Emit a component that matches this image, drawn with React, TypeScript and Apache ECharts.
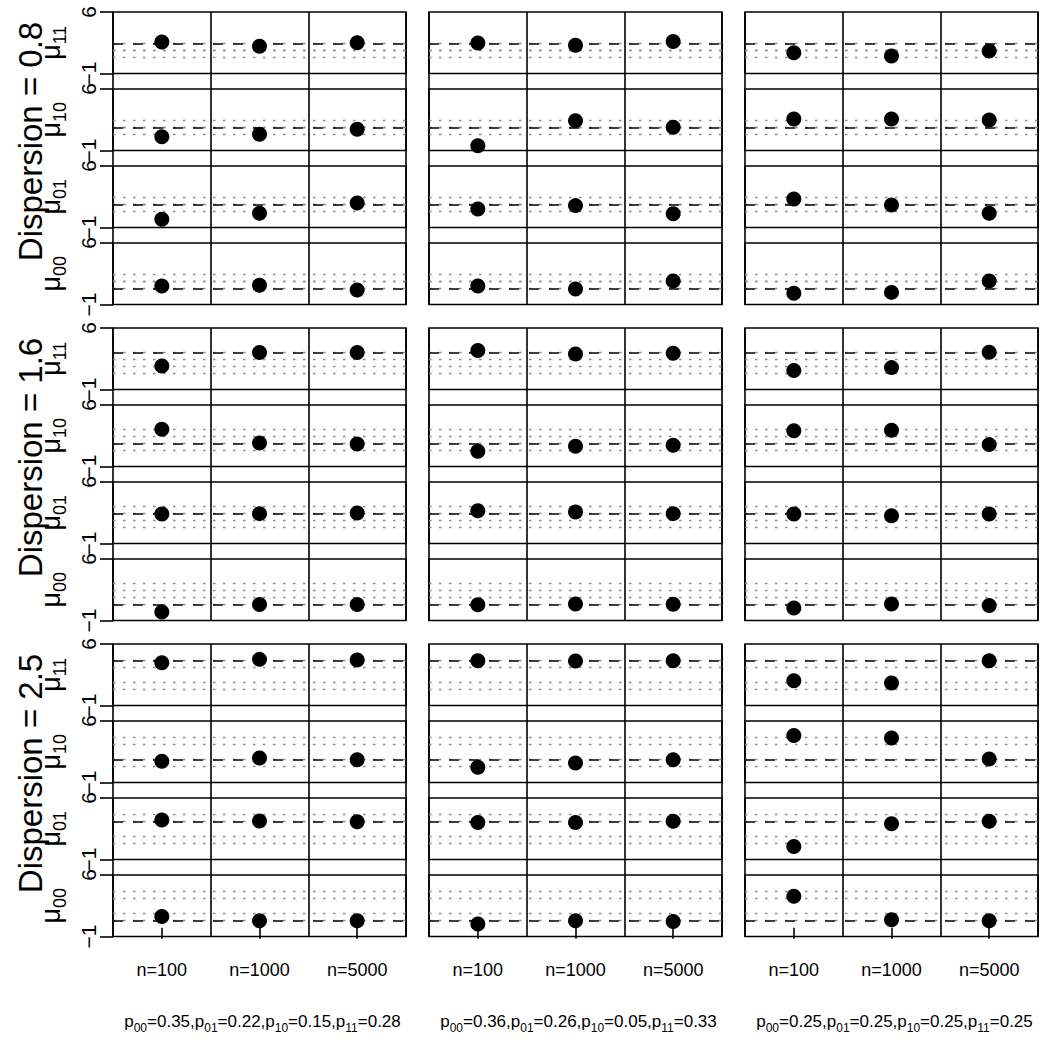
import React, { useEffect, useRef } from 'react';
import * as echarts from 'echarts';

const FONT = '"Liberation Sans", Arial, Helvetica, sans-serif';

// ---------- data ----------
const sampleSizes = ['n=100', 'n=1000', 'n=5000'];
const dispersionLabels = ['Dispersion = 0.8', 'Dispersion = 1.6', 'Dispersion = 2.5'];
const meanSubscripts = ['11', '10', '01', '00']; // panels top to bottom
const yTickValues = [-1, 6];

// true means, ordered mu11, mu10, mu01, mu00
const trueMeansDisp08 = [2.4, 1.6, 1.6, 0.8];
const trueMeansDisp16 = [3.2, 1.6, 2.4, 0.8];
const trueMeansDisp25 = [4.1, 1.6, 3.3, 0.8];

// p settings (p00, p01, p10, p11)
const pSubscripts = ['00', '01', '10', '11'];
const pSetting1 = [0.35, 0.22, 0.15, 0.28];
const pSetting2 = [0.36, 0.26, 0.05, 0.33];
const pSetting3 = [0.25, 0.25, 0.25, 0.25];

// estimates: rows mu11, mu10, mu01, mu00; columns n=100, n=1000, n=5000
const estDisp08P1 = [[2.59, 2.10, 2.51], [0.57, 0.84, 1.41], [-0.07, 0.61, 1.79], [1.10, 1.18, 0.65]];
const estDisp08P2 = [[2.48, 2.21, 2.63], [-0.45, 2.40, 1.64], [1.10, 1.49, 0.57], [1.10, 0.76, 1.67]];
const estDisp08P3 = [[1.37, 0.99, 1.56], [2.59, 2.59, 2.47], [2.25, 1.56, 0.61], [0.27, 0.38, 1.67]];

const estDisp16P1 = [[1.68, 3.22, 3.22], [3.23, 1.68, 1.56], [2.36, 2.40, 2.48], [-0.04, 0.82, 0.82]];
const estDisp16P2 = [[3.43, 3.05, 3.12], [0.73, 1.30, 1.41], [2.74, 2.59, 2.40], [0.80, 0.88, 0.84]];
const estDisp16P3 = [[1.15, 1.49, 3.24], [3.08, 3.12, 1.49], [2.36, 2.17, 2.36], [0.42, 0.88, 0.72]];

const estDisp25P1 = [[3.87, 4.25, 4.18], [1.41, 1.79, 1.60], [3.49, 3.38, 3.30], [1.29, 0.80, 0.80]];
const estDisp25P2 = [[4.10, 4.06, 4.10], [0.73, 1.22, 1.60], [3.22, 3.22, 3.34], [0.42, 0.80, 0.72]];
const estDisp25P3 = [[1.82, 1.55, 4.10], [4.34, 4.07, 1.68], [0.49, 3.07, 3.34], [3.58, 0.91, 0.80]];

const trueMeansByRow = [trueMeansDisp08, trueMeansDisp16, trueMeansDisp25];
const pSettings = [pSetting1, pSetting2, pSetting3];
const estimates = [
  [estDisp08P1, estDisp08P2, estDisp08P3],
  [estDisp16P1, estDisp16P2, estDisp16P3],
  [estDisp25P1, estDisp25P2, estDisp25P3],
];

// ---------- layout ----------
const BLOCK_LEFT = [113, 429, 745];
const BLOCK_TOP = [12, 328, 644];
const BLOCK_W = 293;
const PANEL_H = 61.5;
const PANEL_STEP = 77;
const BLOCK_H = PANEL_STEP * 3 + PANEL_H;
const LINE_W = 1.6;

function buildOption() {
  const grid: any[] = [];
  const xAxis: any[] = [];
  const yAxis: any[] = [];
  const series: any[] = [];
  const graphic: any[] = [];

  for (let r = 0; r < 3; r++) {
    for (let c = 0; c < 3; c++) {
      const L = BLOCK_LEFT[c];
      const T = BLOCK_TOP[r];
      // frame grid: vertical dividers through the whole block
      let gi = grid.length;
      grid.push({ left: L, top: T, width: BLOCK_W, height: BLOCK_H, show: false });
      xAxis.push({
        gridIndex: gi, type: 'value', min: 0, max: 3, interval: 1,
        axisLine: { show: false }, axisTick: { show: false }, axisLabel: { show: false },
        splitLine: { show: true, lineStyle: { color: '#000', width: LINE_W } },
      });
      yAxis.push({ gridIndex: gi, type: 'value', min: 0, max: 1, show: false, splitLine: { show: false } });

      for (let k = 0; k < 4; k++) {
        gi = grid.length;
        const isBottom = r === 2 && k === 3;
        const isLeft = c === 0;
        grid.push({
          left: L, top: T + PANEL_STEP * k, width: BLOCK_W, height: PANEL_H,
          show: true, borderColor: '#000', borderWidth: LINE_W, backgroundColor: 'transparent',
        });
        xAxis.push({
          gridIndex: gi, type: 'category', data: sampleSizes, boundaryGap: true,
          axisLine: { show: false },
          axisTick: { show: isBottom, alignWithLabel: true, length: 11, lineStyle: { color: '#000', width: LINE_W } },
          axisLabel: { show: isBottom, interval: 0, margin: 24, fontSize: 18, color: '#000', fontFamily: FONT },
          splitLine: { show: false },
        });
        yAxis.push({
          gridIndex: gi, type: 'value', min: -1, max: 6,
          axisLine: { show: false },
          axisTick: { show: isLeft, length: 13, customValues: yTickValues, lineStyle: { color: '#000', width: LINE_W } },
          axisLabel: {
            show: isLeft, customValues: yTickValues, rotate: 90, margin: 14,
            color: '#000', fontFamily: FONT, fontSize: 21,
            formatter: (v: number) => (v < 0 ? '{t|\u2212' + Math.abs(v) + '}' : '{t|' + v + '}'),
            rich: { t: { fontSize: 21, fontFamily: FONT, color: '#000' } },
          },
          splitLine: { show: false },
          name: isLeft ? `{mu|\u03bc}{sub|${meanSubscripts[k]}}` : '',
          nameLocation: 'middle', nameRotate: 90, nameGap: 44,
          nameTextStyle: {
            fontFamily: FONT, color: '#000', fontSize: 27,
            rich: {
              mu: { fontSize: 27, fontFamily: FONT, color: '#000', padding: [0, 0, 5, 0] },
              sub: { fontSize: 18, fontFamily: FONT, color: '#000', verticalAlign: 'bottom' },
            },
          },
        });
        const means = trueMeansByRow[r];
        series.push({
          type: 'line', xAxisIndex: gi, yAxisIndex: gi, data: [], z: 2, silent: true,
          markLine: {
            silent: true, symbol: ['none', 'none'], label: { show: false }, z: 3,
            emphasis: { disabled: true },
            data: [
              ...means.map((m) => ({ yAxis: m, lineStyle: { type: [2.5, 7.5], color: '#8c8c8c', width: 1.4, opacity: 1 } })),
              { yAxis: means[k], lineStyle: { type: [10, 10], color: '#000', width: 1.5, opacity: 1 } },
            ],
          },
        });
        series.push({
          type: 'scatter', xAxisIndex: gi, yAxisIndex: gi, data: estimates[r][c][k],
          symbol: 'circle', symbolSize: 15, itemStyle: { color: '#000', opacity: 1 }, z: 10, silent: true,
        });
      }
    }
    graphic.push({
      type: 'text', x: 30, y: BLOCK_TOP[r] + 129.5, rotation: Math.PI / 2,
      style: { text: dispersionLabels[r], fontSize: 33, fontFamily: FONT, fill: '#000', align: 'center', verticalAlign: 'middle' },
    });
  }

  for (let c = 0; c < 3; c++) {
    const vals = pSettings[c];
    const text = pSubscripts
      .map((s, i) => `{b|p}{s|${s}}{b|=${vals[i].toFixed(2)}${i < 3 ? ',' : ''}}`)
      .join('');
    graphic.push({
      type: 'text', x: BLOCK_LEFT[c] + BLOCK_W / 2 + 3, y: 1023,
      style: {
        text, fontFamily: FONT, fontSize: 17, fill: '#000', align: 'center', verticalAlign: 'middle',
        rich: {
          b: { fontSize: 17, fontFamily: FONT, fill: '#000', padding: [0, 0, 4, 0] },
          s: { fontSize: 12, fontFamily: FONT, fill: '#000', verticalAlign: 'bottom' },
        },
      },
    });
  }

  return { animation: false, backgroundColor: '#fff', grid, xAxis, yAxis, series, graphic };
}

export default function App() {
  const ref = useRef<HTMLDivElement>(null);
  useEffect(() => {
    if (!ref.current) return;
    const chart = echarts.init(ref.current, null, { renderer: 'svg' });
    chart.setOption(buildOption() as any);
    return () => chart.dispose();
  }, []);
  return (
    <div
      ref={ref}
      style={{ position: 'fixed', left: 0, top: 0, width: 1048, height: 1050, background: '#fff' }}
    />
  );
}
